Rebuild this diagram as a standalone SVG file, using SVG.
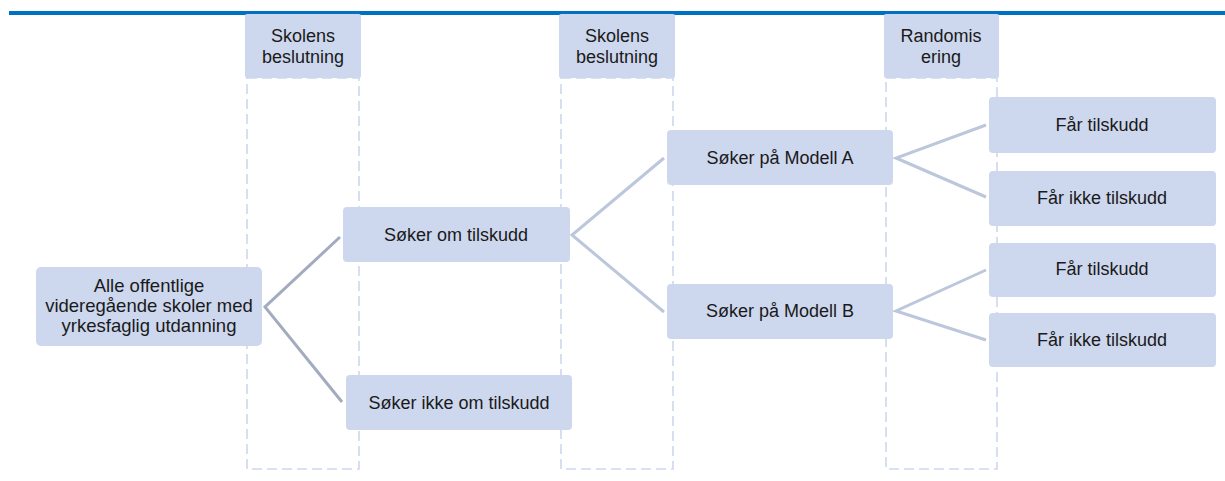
<svg xmlns="http://www.w3.org/2000/svg" width="1225" height="481" viewBox="0 0 1225 481">
<style>
.hdr{fill:#CDD7EE;}
.lane{fill:none;stroke:#CDD7EE;stroke-width:1.6;stroke-dasharray:10 5;}
.node{fill:#CDD7EE;}
.t{font-family:"Liberation Sans",Arial,sans-serif;font-size:18px;fill:#1a1a1a;text-anchor:middle;}
.r{font-size:18.5px;}
.c1{fill:none;stroke:#A3ACBE;stroke-width:3;}
.c2{fill:none;stroke:#BCC7DC;stroke-width:3;}
</style>
<rect width="1225" height="481" fill="#fff"/>
<line x1="9" y1="13" x2="1225" y2="13" stroke="#0070C0" stroke-width="4"/>
<g id="lanes">
<rect class="lane" x="247" y="78" width="112" height="391"/>
<rect class="lane" x="561" y="78" width="112" height="391"/>
<rect class="lane" x="886" y="78" width="111" height="391"/>
</g>
<g id="hdr1"><rect class="hdr" x="245" y="14" width="116" height="64" rx="2"/>
<text class="t" x="303" y="42">Skolens</text><text class="t" x="303" y="63">beslutning</text></g>
<g id="hdr2"><rect class="hdr" x="559" y="14" width="116" height="64" rx="2"/>
<text class="t" x="617" y="42">Skolens</text><text class="t" x="617" y="63">beslutning</text></g>
<g id="hdr3"><rect class="hdr" x="884" y="14" width="115" height="64" rx="2"/>
<text class="t" x="941" y="42">Randomis</text><text class="t" x="941" y="63">ering</text></g>
<g id="connectors">
<polyline class="c1" points="340,237 265,307 342,402"/>
<polyline class="c2" points="664,158 572,235 664,312"/>
<polyline class="c2" points="986,125 896,158 986,197"/>
<polyline class="c2" points="986,270 896,311 986,340"/>
</g>
<g id="root"><rect class="node" x="36" y="267" width="226" height="79" rx="5"/>
<text class="t r" x="149" y="292">Alle offentlige</text>
<text class="t r" x="149" y="312">videregående skoler med</text>
<text class="t r" x="149" y="332">yrkesfaglig utdanning</text></g>
<g id="soker"><rect class="node" x="343" y="207" width="227" height="55" rx="4"/>
<text class="t" x="456" y="241">Søker om tilskudd</text></g>
<g id="ikke"><rect class="node" x="346" y="375" width="226" height="55" rx="4"/>
<text class="t" x="459" y="409">Søker ikke om tilskudd</text></g>
<g id="modA"><rect class="node" x="667" y="130" width="226" height="55" rx="4"/>
<text class="t" x="780" y="164">Søker på Modell A</text></g>
<g id="modB"><rect class="node" x="667" y="284" width="226" height="55" rx="4"/>
<text class="t" x="780" y="317">Søker på Modell B</text></g>
<g id="a1"><rect class="node" x="989" y="97" width="227" height="56" rx="4"/>
<text class="t" x="1102" y="131">Får tilskudd</text></g>
<g id="a2"><rect class="node" x="989" y="171" width="227" height="55" rx="4"/>
<text class="t" x="1102" y="204">Får ikke tilskudd</text></g>
<g id="b1"><rect class="node" x="989" y="243" width="227" height="54" rx="4"/>
<text class="t" x="1102" y="275">Får tilskudd</text></g>
<g id="b2"><rect class="node" x="989" y="313" width="227" height="54" rx="4"/>
<text class="t" x="1102" y="346">Får ikke tilskudd</text></g>
</svg>
